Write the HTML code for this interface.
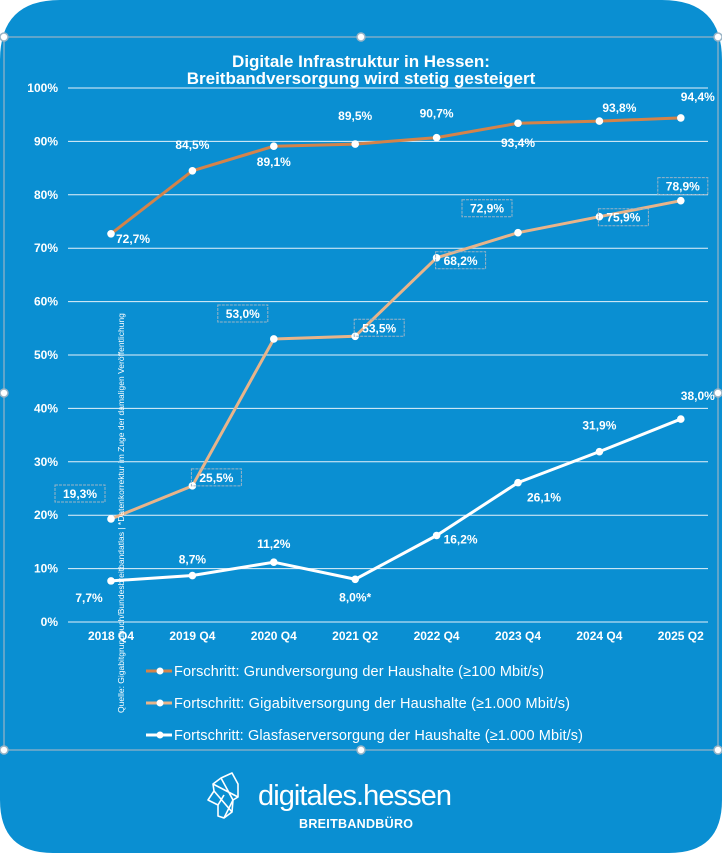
<!DOCTYPE html>
<html><head><meta charset="utf-8"><style>
html,body{margin:0;padding:0;background:#fff}
body{width:722px;height:853px;overflow:hidden;font-family:"Liberation Sans",sans-serif}
</style></head><body>
<svg id="chart" width="722" height="853" xmlns="http://www.w3.org/2000/svg" font-family="Liberation Sans, sans-serif">
<path d="M60,0 H662 Q722,0 722,60 V800 Q722,853 669,853 H53 Q0,853 0,800 V60 Q0,0 60,0 Z" fill="#0a8fd2"/>
<rect x="4" y="37" width="714" height="713" fill="none" stroke="#9ab4c6" stroke-width="1.2"/>
<g fill="#fff" stroke="#9ab4c6" stroke-width="1.5">
<circle cx="4" cy="37" r="4"/><circle cx="361" cy="37" r="4"/><circle cx="718" cy="37" r="4"/>
<circle cx="4" cy="393" r="4"/><circle cx="718" cy="393" r="4"/>
<circle cx="4" cy="750" r="4"/><circle cx="361" cy="750" r="4"/><circle cx="718" cy="750" r="4"/>
</g>
<text x="361" y="67" text-anchor="middle" fill="#fff" font-weight="bold" font-size="17">Digitale Infrastruktur in Hessen:</text>
<text x="361" y="84" text-anchor="middle" fill="#fff" font-weight="bold" font-size="17">Breitbandversorgung wird stetig gesteigert</text>
<g id="grid"></g><g id="yticks"></g><g id="xticks"></g><g id="series"></g><g id="labels"></g>
<text transform="translate(124,713) rotate(-90)" fill="#fff" font-size="8.5">Quelle: Gigabitgrundbuch/Bundesbreitbandatlas | *Datenkorrektur im Zuge der damaligen Veröffentlichung</text>
<g fill="#fff" font-size="14.5">
<g><line x1="146" y1="671" x2="172" y2="671" stroke="#d4834a" stroke-width="3"/><circle cx="160" cy="671" r="3.5" fill="#fff"/><text x="174" y="676" textLength="370">Forschritt: Grundversorgung der Haushalte (≥100 Mbit/s)</text></g>
<g><line x1="146" y1="703" x2="172" y2="703" stroke="#e8b48a" stroke-width="3"/><circle cx="160" cy="703" r="3.5" fill="#fff"/><text x="174" y="708" textLength="396">Fortschritt: Gigabitversorgung der Haushalte (≥1.000 Mbit/s)</text></g>
<g><line x1="146" y1="735" x2="172" y2="735" stroke="#fff" stroke-width="3"/><circle cx="160" cy="735" r="3.5" fill="#fff"/><text x="174" y="740" textLength="409">Fortschritt: Glasfaserversorgung der Haushalte (≥1.000 Mbit/s)</text></g>
</g>
<g>
<g fill="none" stroke="#fff" stroke-width="1.6" stroke-linejoin="round">
<path d="M221,778 L232,773 L238,784 L238,797 L233,800 L232,812 L224,818 L218,816 L218,805 L208,800 L214,791 L213,784 Z"/>
<path d="M213,784 L238,797 M221,778 L233,800 L224,818 M214,791 L232,812 M218,805 L224,795"/>
</g>
<text x="258" y="805" fill="#fff" font-size="29" textLength="194">digitales.hessen</text>
<text x="299" y="828" fill="#fff" font-size="12.5" font-weight="bold" textLength="114">BREITBANDBÜRO</text>
</g>
</svg>
<script>
const categories=["2018 Q4","2019 Q4","2020 Q4","2021 Q2","2022 Q4","2023 Q4","2024 Q4","2025 Q2"];
const grundValues=[72.7,84.5,89.1,89.5,90.7,93.4,93.8,94.4];
const gigabitValues=[19.3,25.5,53.0,53.5,68.2,72.9,75.9,78.9];
const glasValues=[7.7,8.7,11.2,8.0,16.2,26.1,31.9,38.0];
const grundLabels=["72,7%","84,5%","89,1%","89,5%","90,7%","93,4%","93,8%","94,4%"];
const gigabitLabels=["19,3%","25,5%","53,0%","53,5%","68,2%","72,9%","75,9%","78,9%"];
const glasLabels=["7,7%","8,7%","11,2%","8,0%*","16,2%","26,1%","31,9%","38,0%"];
const yTicks=[0,10,20,30,40,50,60,70,80,90,100];
const yTickLabels=["0%","10%","20%","30%","40%","50%","60%","70%","80%","90%","100%"];
const NS="http://www.w3.org/2000/svg";
function xScale(i){return 111+i*81.4;}
function yScale(v){return 622-v*5.34;}
function mk(tag,attrs,parent){const e=document.createElementNS(NS,tag);for(const k in attrs)e.setAttribute(k,attrs[k]);parent.appendChild(e);return e;}
const grid=document.getElementById('grid'),yt=document.getElementById('yticks'),xt=document.getElementById('xticks');
yTicks.forEach((t,i)=>{
 const l=mk('line',{x1:68,x2:708,y1:yScale(t),y2:yScale(t),stroke:'#e6f2fa','stroke-width':1},grid);
 
 
 const tx=mk('text',{x:58,y:yScale(t)+4,'text-anchor':'end',fill:'#fff','font-size':12,'font-weight':'bold'},yt);
 tx.textContent=yTickLabels[i];
 
 
});
categories.forEach((c,i)=>{
 const tx=mk('text',{x:xScale(i),y:640,'text-anchor':'middle',fill:'#fff','font-size':12,'font-weight':'bold'},xt);
 tx.textContent=c;
 
 
});
// label offsets [dx,dy] (layout only)
const grundOff=[[22,5],[0,-26],[0,16],[0,-28],[0,-24],[0,20],[20,-13],[17,-21]];
const gigOff=[[-31,-25],[24,-8],[-31,-25],[24,-8],[24,3],[-31,-24],[24,1],[2,-14]];
const glasOff=[[-22,17],[0,-16],[0,-18],[0,18],[24,4],[26,15],[0,-26],[17,-23]];
const ser=document.getElementById('series'),lab=document.getElementById('labels');
function drawSeries(vals,labels,off,color,name,box){
 const pts=vals.map((v,i)=>xScale(i)+','+yScale(v)).join(' ');
 const pl=mk('polyline',{points:pts,fill:'none',stroke:color,'stroke-width':3,'stroke-linejoin':'round'},ser);
 
 
 vals.forEach((v,i)=>{
  const c=mk('circle',{cx:xScale(i),cy:yScale(v),r:3.8,fill:'#fff'},ser);
  
  
  const x=xScale(i)+off[i][0],y=yScale(v)+off[i][1];
  if(box){
   const r=mk('rect',{x:x-25,y:y-9,width:50,height:17,fill:'none',stroke:'#9ab4c6','stroke-width':1,'stroke-dasharray':'3,1'},lab);
   
   
  }
  const t=mk('text',{x:x,y:y+4,'text-anchor':'middle',fill:'#fff','font-size':12,'font-weight':'bold'},lab);
  t.textContent=labels[i];
  
  
 });
}
drawSeries(glasValues,glasLabels,glasOff,'#ffffff','glasfaser',false);
drawSeries(gigabitValues,gigabitLabels,gigOff,'#e8b48a','gigabit',true);
drawSeries(grundValues,grundLabels,grundOff,'#d4834a','grundversorgung',false);
</script>
</body></html>
